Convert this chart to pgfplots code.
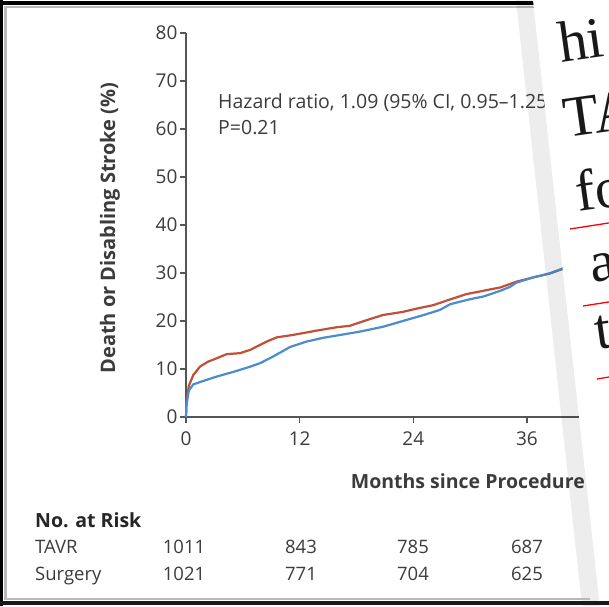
\documentclass[border=0pt]{standalone}
\usepackage{pgfplots}
\pgfplotsset{compat=1.18}
\usepackage{fontspec}
\setmainfont{Open Sans}
\newfontfamily\paperfont{Liberation Serif}
\definecolor{txt}{HTML}{3C3C3C}
\definecolor{axc}{HTML}{555555}
\definecolor{redc}{HTML}{C0503A}
\definecolor{bluec}{HTML}{4C8BD0}
\begin{document}
\begin{tikzpicture}[x=1pt,y=1pt]
\useasboundingbox (0,0) rectangle (609,606);
\fill[white] (0,0) rectangle (609,606);
\begin{axis}[
  at={(186pt,189pt)}, anchor=south west,
  scale only axis, width=402pt, height=384pt,
  xmin=0, xmax=42.45, ymin=0, ymax=80,
  axis lines=left, axis line style={-, axc, line width=1.6pt},
  xtick={0,12,24,36}, ytick={0,10,...,80},
  tick align=outside, major tick length=6pt,
  tick style={axc, line width=1.2pt},
  ticklabel style={font=\fontsize{19}{21}\selectfont, text=txt},
  xticklabel style={yshift=-5pt},
  yticklabel style={xshift=1pt},
  /pgf/number format/assume math mode=true,
  clip=false,
]
\addplot[redc, line width=2.2pt, line join=round] coordinates {
(0,0) (0.05,3) (0.3,6.5) (0.77,8.75) (1.48,10.5) (2.3,11.5) (3.2,12.2) (4.3,13.1)
(5.7,13.3) (6.8,14) (8.5,15.7) (9.6,16.6) (11.3,17.1) (13.8,18.0) (15.9,18.7)
(17.3,19.0) (19.1,20.2) (20.8,21.25) (22.9,21.9) (24.4,22.6) (26.1,23.3) (27.9,24.5)
(29.6,25.6) (31.4,26.3) (33.2,27.0) (34.9,28.2) (36.7,29.1) (38.4,29.9) (40.0,31.0)
};
\addplot[bluec, line width=2.2pt, line join=round] coordinates {
(0,0) (0.05,2.5) (0.3,5.5) (0.77,6.8) (1.8,7.5) (3.2,8.4) (5.0,9.4) (6.8,10.5)
(7.8,11.2) (9.2,12.6) (11.0,14.6) (12.7,15.7) (14.5,16.5) (16.6,17.2) (18.4,17.8)
(20.8,18.8) (22.9,20.0) (25.1,21.25) (26.8,22.3) (27.9,23.5) (29.9,24.5) (31.4,25.1)
(33.2,26.3) (34.2,27.1) (34.9,28.0) (36.7,29.1) (38.4,29.9) (40.0,31.1)
};
\end{axis}
% labels
\node[rotate=90, text=txt, font=\bfseries\fontsize{20}{22}\selectfont] at (110,378) {Death or Disabling Stroke (\%)};
\node[anchor=base west, inner sep=0, text=txt, font=\fontsize{19.5}{21}\selectfont] at (218,497) {Hazard ratio, 1.09 (95\% CI, 0.95--1.25)};
\node[anchor=base west, inner sep=0, text=txt, font=\fontsize{19.5}{21}\selectfont] at (218,471) {P=0.21};
\node[anchor=base east, inner sep=0, text=txt, font=\bfseries\fontsize{19.5}{21}\selectfont] at (585,118) {Months since Procedure};
\node[anchor=base west, inner sep=0, text=black!85, font=\bfseries\fontsize{19.5}{21}\selectfont] at (35,79) {No. at Risk};
\begin{scope}[every node/.style={inner sep=0, text=txt, font=\fontsize{18.5}{20}\selectfont}]
\node[anchor=base west] at (35,53) {TAVR};
\node[anchor=base west] at (35,26) {Surgery};
\node[anchor=base] at (184,53) {1011};
\node[anchor=base] at (301,53) {843};
\node[anchor=base] at (413,53) {785};
\node[anchor=base] at (527,53) {687};
\node[anchor=base] at (184,26) {1021};
\node[anchor=base] at (301,26) {771};
\node[anchor=base] at (413,26) {704};
\node[anchor=base] at (527,26) {625};
\end{scope}
% frame
\draw[black, line width=3pt] (1.5,0) -- (1.5,606);
\draw[gray!55, line width=2.5pt] (5.5,8) -- (5.5,600);
\draw[black, line width=3.5pt] (0,603) -- (545,603);
\draw[gray!55, line width=2pt] (4,599) -- (545,599);
% shadow and paper
\fill[black, opacity=0.07] (516,606) -- (533,606) -- (600,0) -- (582,0) -- cycle;
\fill[white] (533,606) -- (609,606) -- (609,0) -- (600,0) -- cycle;
\draw[black!90, line width=3.5pt] (0,3) -- (609,3);
\draw[gray!55, line width=2pt] (4,7.5) -- (590,7.5);
\begin{scope}
\clip (533,606) -- (609,606) -- (609,0) -- (600,0) -- cycle;
\begin{scope}[every node/.style={anchor=base west, inner sep=0, rotate=8, font=\paperfont\fontsize{58}{60}\selectfont, text=black!90}]
\node at (561,543) {hi};
\node at (566,468) {TA};
\node at (578,394) {fo};
\node at (592,323) {a};
\node at (597,256) {t};
\end{scope}
\draw[red, line width=1.3pt] (570,377) -- (615,384);
\draw[red, line width=1.3pt] (583,300) -- (615,305);
\draw[red, line width=1.3pt] (597,227) -- (615,230);
\end{scope}
\end{tikzpicture}
\end{document}
